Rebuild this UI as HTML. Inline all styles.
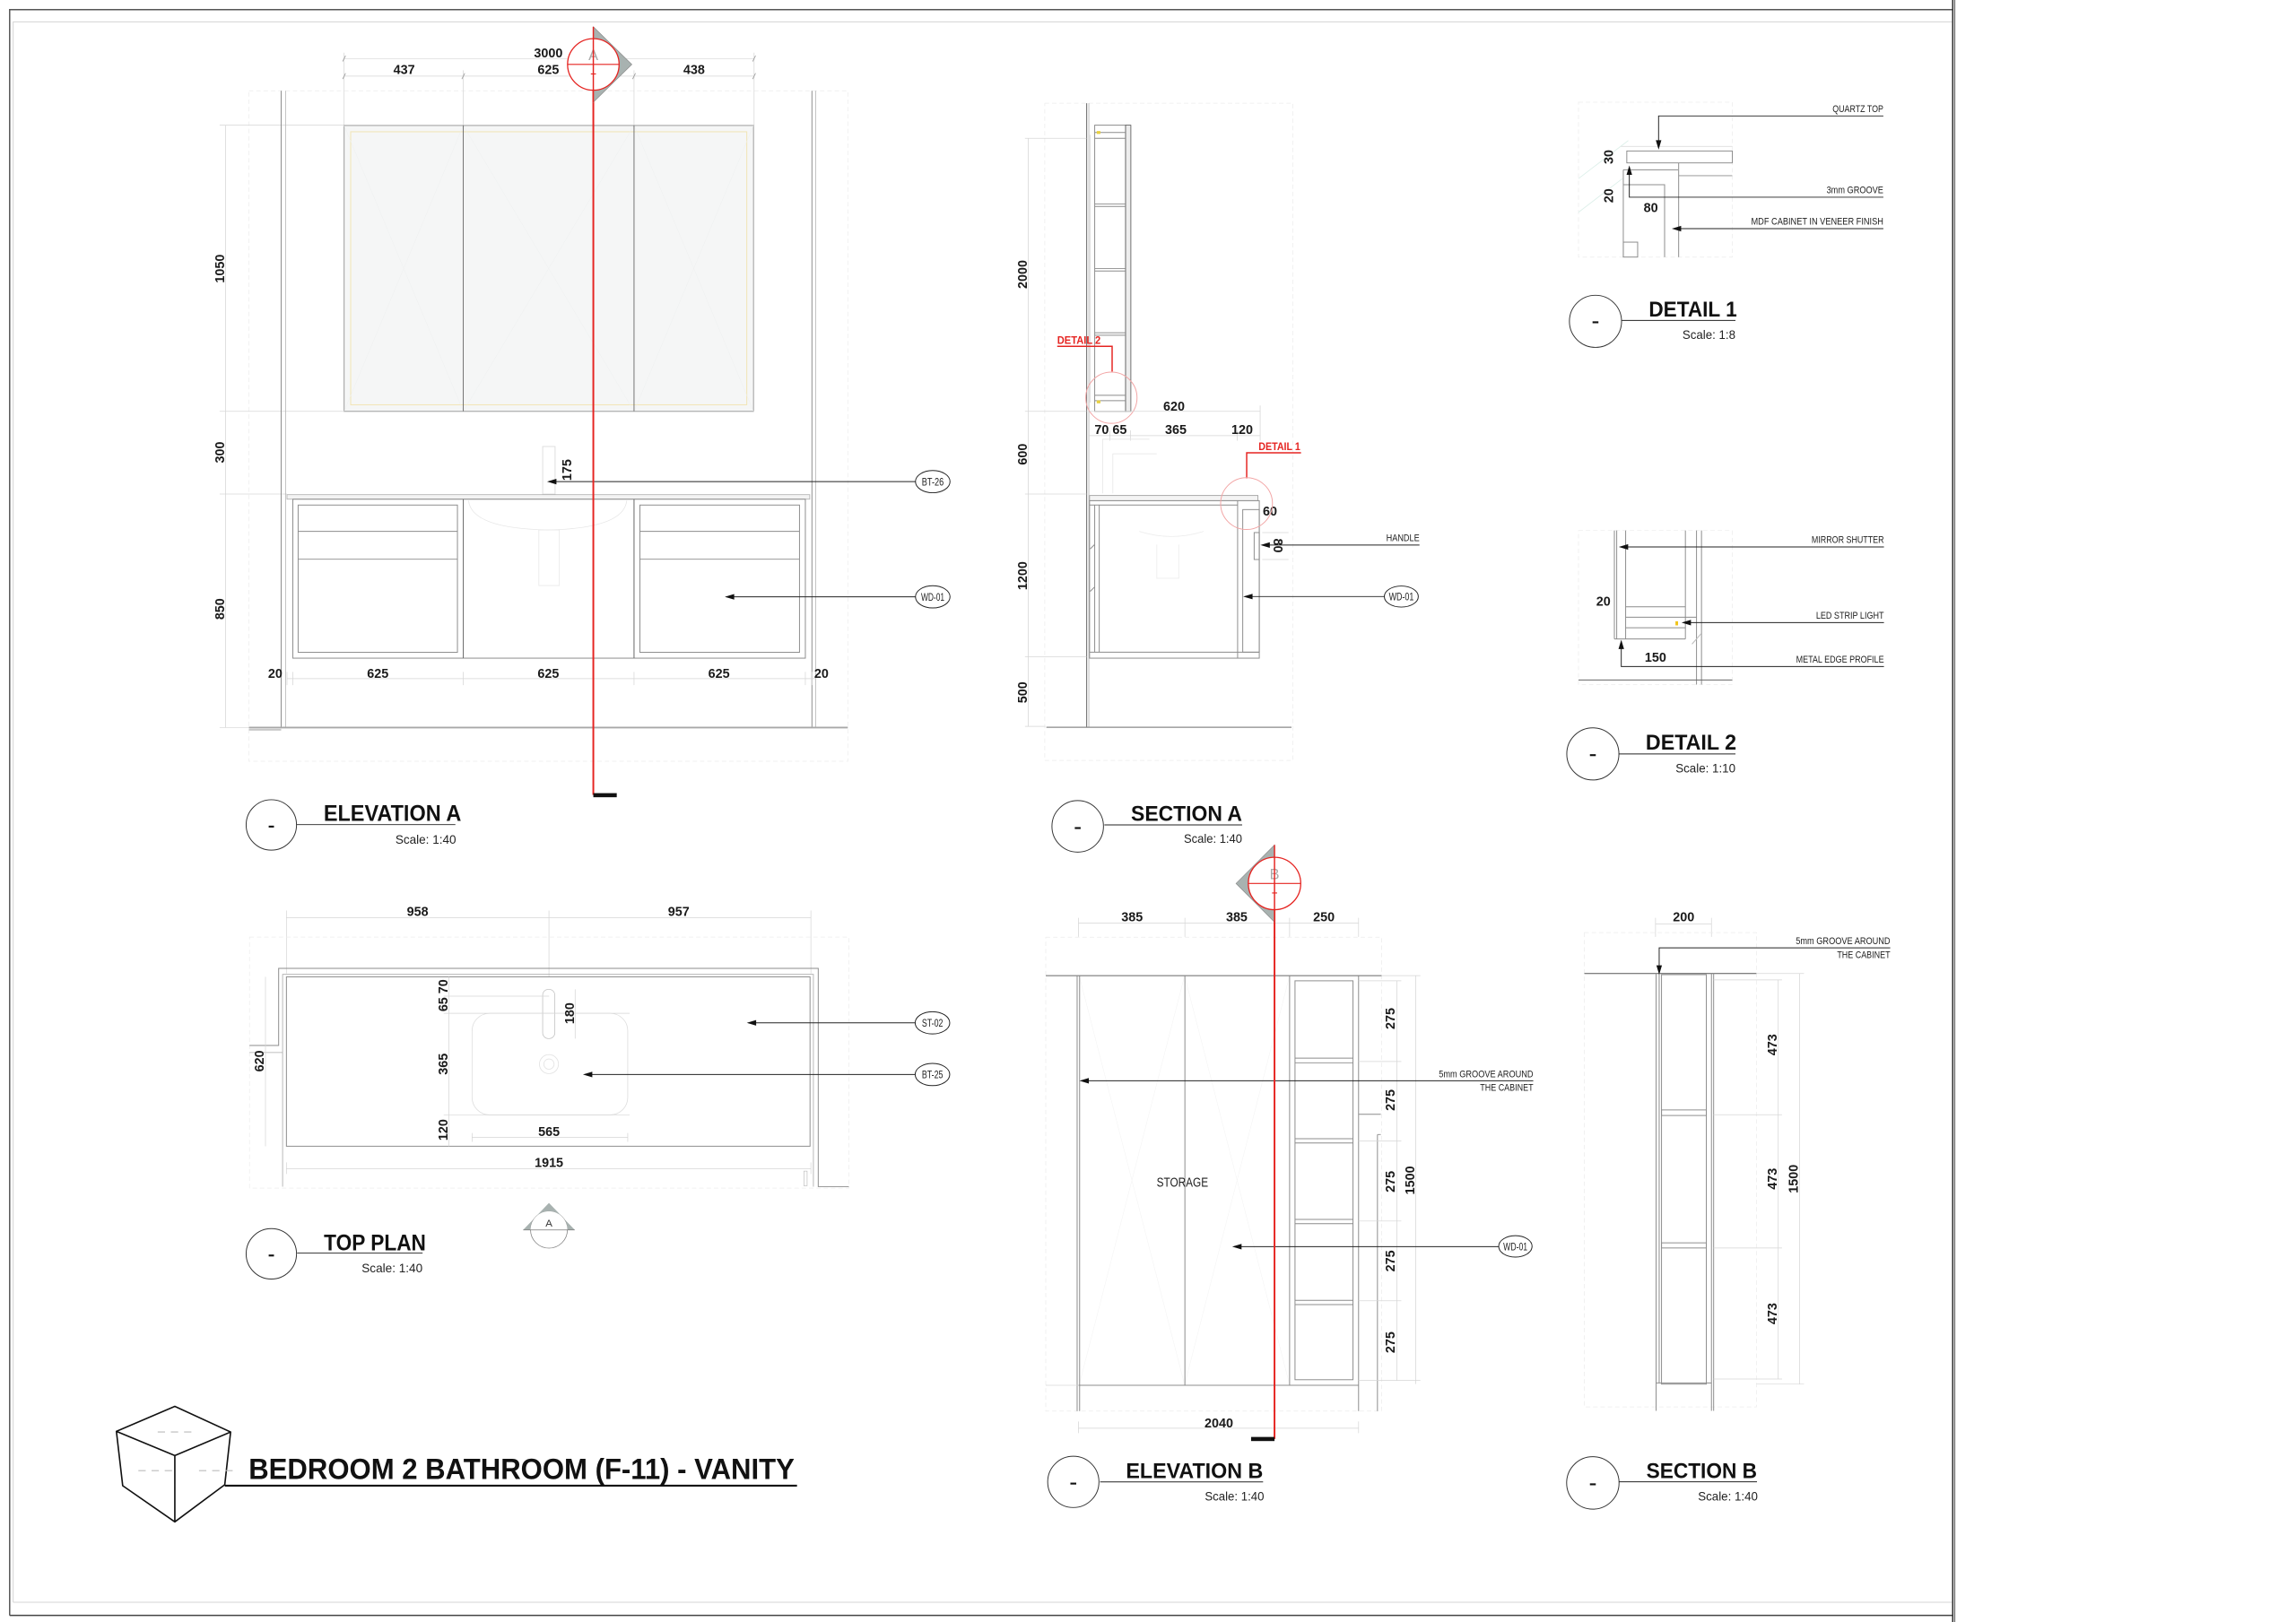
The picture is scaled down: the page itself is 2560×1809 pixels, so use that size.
<!DOCTYPE html>
<html><head><meta charset="utf-8">
<style>
html,body{margin:0;padding:0;background:#fff;}
svg{display:block;}
text{font-family:"Liberation Sans",Arial,sans-serif;}
.d{font-size:8.8px;fill:#1a1a1a;font-weight:bold;}
.lb{font-size:7px;fill:#222;}
.bb{font-size:7.5px;fill:#222;}
.t{font-weight:bold;fill:#111;}
.s{font-size:8.5px;fill:#222;}
.g{stroke:#8c8c8c;stroke-width:0.6;fill:none;}
.gd{stroke:#666;stroke-width:0.6;fill:none;}
.f{stroke:#d6d6d6;stroke-width:0.45;fill:none;}
.ff{stroke:#ececec;stroke-width:0.45;fill:none;stroke-dasharray:3 2;}
.k{stroke:#222;stroke-width:0.6;fill:none;}
.r{stroke:#e52421;stroke-width:1.2;fill:none;}
.rc{stroke:#f2a5a5;stroke-width:0.6;fill:none;}
.ah{fill:#111;stroke:none;}
</style></head><body>
<svg width="2560" height="1809" viewBox="0 0 1568 1108" xmlns="http://www.w3.org/2000/svg">
<rect x="0" y="0" width="1568" height="1108" fill="#fff"/>

<!-- ============ SHEET BORDER ============ -->
<path d="M6.6 1103.5 V6.6 H1334" stroke="#555" stroke-width="0.9" fill="none"/>
<path d="M6.6 1103.5 H1334" stroke="#444" stroke-width="0.9" fill="none"/>
<path d="M9 1094.5 V14.9 H1333 M9 1094.5 H1333" stroke="#d4d4d4" stroke-width="0.6" fill="none"/>
<line x1="1333.6" y1="0" x2="1333.6" y2="1108" stroke="#333" stroke-width="1"/>
<line x1="1335" y1="0" x2="1335" y2="1108" stroke="#555" stroke-width="0.6"/>

<!-- ============ ELEVATION A ============ -->
<rect x="170" y="62" width="409" height="458" class="ff"/>
<path d="M235 40 H515 M235 52 H515 M235 36 V86 M316.4 48 V86 M433 48 V86 M515 36 V86" class="f"/>
<path d="M234 42 L236 38 M514 42 L516 38 M234 54 L236 50 M315.4 54 L317.4 50 M432 54 L434 50 M514 54 L516 50" stroke="#999" stroke-width="0.5"/>
<text class="d" x="374.5" y="39.2" text-anchor="middle">3000</text>
<text class="d" x="276" y="50.6" text-anchor="middle">437</text>
<text class="d" x="374.5" y="50.6" text-anchor="middle">625</text>
<text class="d" x="474" y="50.6" text-anchor="middle">438</text>
<path d="M154 85.5 V497 M150 85.5 H235 M150 281 H235 M150 337.5 H196 M150 497 H170" class="f"/>
<text class="d" transform="translate(150,183.5) rotate(-90)" text-anchor="middle" dy="3.2">1050</text>
<text class="d" transform="translate(150,309) rotate(-90)" text-anchor="middle" dy="3.2">300</text>
<text class="d" transform="translate(150,416) rotate(-90)" text-anchor="middle" dy="3.2">850</text>
<path d="M192 62 V497 M554.5 62 V497" class="g"/>
<path d="M195 62 V497 M557 62 V497" stroke="#b5b5b5" stroke-width="0.5" fill="none"/>
<!-- mirror -->
<rect x="235" y="85.7" width="279.6" height="195.3" fill="#f5f6f6" stroke="#9a9a9a" stroke-width="0.6"/>
<rect x="239.5" y="90" width="270.5" height="186.5" fill="none" stroke="#f1e4b3" stroke-width="0.6"/>
<path d="M235 85.7 L316.4 281 M316.4 85.7 L235 281 M316.4 85.7 L433 281 M433 85.7 L316.4 281 M433 85.7 L514.6 281 M514.6 85.7 L433 281" stroke="#eef0f0" stroke-width="0.3"/>
<path d="M316.4 85.7 V281 M433 85.7 V281" stroke="#666" stroke-width="0.55"/>
<rect x="370.6" y="305" width="8.5" height="32.5" fill="none" stroke="#d8d8d8" stroke-width="0.5"/>
<text class="d" transform="translate(387,321) rotate(-90)" text-anchor="middle" dy="3.2">175</text>
<!-- cabinet -->
<rect x="196" y="337.9" width="357" height="3.1" fill="#f3f3f3" stroke="#b0b0b0" stroke-width="0.5"/>
<rect x="200" y="341" width="350" height="108.6" class="g"/>
<path d="M316.4 341 V449.6 M433 341 V449.6" class="gd"/>
<rect x="203.6" y="345" width="108.8" height="100.6" class="g"/>
<path d="M203.6 363 H312.4 M203.6 382 H312.4" class="g"/>
<rect x="437" y="345" width="109" height="100.6" class="g"/>
<path d="M437 363 H546 M437 382 H546" class="g"/>
<path d="M320 342 Q322 361 374 362 Q426 361 428 342" stroke="#e6e6e6" stroke-width="0.5" fill="none"/>
<rect x="368" y="362" width="14" height="38" fill="none" stroke="#e8e8e8" stroke-width="0.5"/>
<path d="M196 463.6 H557 M196 459 V468 M200 459 V468 M316.4 459 V468 M433 459 V468 M550 459 V468 M554.5 459 V468" class="f"/>
<text class="d" x="188" y="463" text-anchor="middle">20</text>
<text class="d" x="258" y="463" text-anchor="middle">625</text>
<text class="d" x="374.5" y="463" text-anchor="middle">625</text>
<text class="d" x="491" y="463" text-anchor="middle">625</text>
<text class="d" x="561" y="463" text-anchor="middle">20</text>
<line x1="170" y1="497" x2="579" y2="497" stroke="#a8a8a8" stroke-width="1.1"/>
<line x1="170" y1="498.5" x2="192" y2="498.5" stroke="#c8c8c8" stroke-width="1.2"/>
<line x1="375" y1="329" x2="625.2" y2="329" class="k"/>
<polygon points="373.6,329 380,327.1 380,330.9" class="ah"/>
<ellipse cx="637" cy="329" rx="11.8" ry="7.6" fill="#fff" stroke="#222" stroke-width="0.6"/>
<text class="bb" x="637" y="331.6" text-anchor="middle" textLength="15" lengthAdjust="spacingAndGlyphs">BT-26</text>
<line x1="496" y1="407.7" x2="625.2" y2="407.7" class="k"/>
<polygon points="495,407.7 501.4,405.8 501.4,409.6" class="ah"/>
<ellipse cx="637" cy="407.7" rx="11.8" ry="7.6" fill="#fff" stroke="#222" stroke-width="0.6"/>
<text class="bb" x="637" y="410.3" text-anchor="middle" textLength="16" lengthAdjust="spacingAndGlyphs">WD-01</text>
<!-- section line A -->
<line x1="405.2" y1="44" x2="405.2" y2="543" class="r"/>
<rect x="405.2" y="541.8" width="16" height="2.8" fill="#111"/>
<polygon points="405.2,18.3 431.5,44 405.2,69.8" fill="#a8b2b0" stroke="#888" stroke-width="0.4"/>
<circle cx="405.2" cy="44" r="17.6" fill="#fff" stroke="#e52421" stroke-width="0.8"/>
<line x1="387.6" y1="44" x2="422.8" y2="44" stroke="#e52421" stroke-width="0.7"/>
<text x="405.2" y="41" text-anchor="middle" font-size="10" fill="#aaa">A</text>
<line x1="403.5" y1="50.5" x2="407" y2="50.5" stroke="#e52421" stroke-width="0.7"/>
<line x1="405.2" y1="18.3" x2="405.2" y2="69.8" stroke="#e52421" stroke-width="0.9"/>
<circle cx="185.3" cy="563.5" r="17.2" fill="none" stroke="#333" stroke-width="0.6"/>
<rect x="183.5" y="564" width="3.6" height="1.3" fill="#111"/>
<line x1="202.5" y1="563.3" x2="311" y2="563.3" class="k"/>
<text class="t" x="221" y="560.6" font-size="15.5" textLength="94" lengthAdjust="spacingAndGlyphs">ELEVATION A</text>
<text class="s" x="270" y="576.3" textLength="41.5" lengthAdjust="spacingAndGlyphs">Scale: 1:40</text>

<!-- ============ SECTION A ============ -->
<rect x="713.5" y="70.5" width="169.5" height="449" class="ff"/>
<path d="M742.1 70.5 V496.5" stroke="#777" stroke-width="0.7" fill="none"/>
<path d="M743.6 70.5 V496.5" stroke="#aaa" stroke-width="0.45" fill="none"/>
<line x1="714.6" y1="496.8" x2="882" y2="496.8" stroke="#888" stroke-width="0.8"/>
<path d="M744.5 92 V275" class="f"/>
<rect x="747.6" y="85.5" width="21.1" height="195.5" class="g"/>
<rect x="768.7" y="85.5" width="3.6" height="195.5" fill="#ededed" stroke="#555" stroke-width="0.5"/>
<path d="M747.6 90.5 H768.7 M747.6 94.5 H768.7 M747.6 139.3 H768.7 M747.6 141 H768.7 M747.6 183.4 H768.7 M747.6 185.1 H768.7 M747.6 227.3 H768.7 M747.6 229 H768.7 M747.6 270 H768.7 M747.6 273.7 H768.7" class="g"/>
<rect x="749" y="89.5" width="2.5" height="2" fill="#e8d040"/>
<rect x="749" y="273.5" width="2.5" height="2" fill="#e8d040"/>
<path d="M702.3 94.5 V496.2 M700 94.5 H742 M700 281 H742 M700 337.5 H742 M700 448.7 H742 M700 496.2 H714" class="f"/>
<text class="d" transform="translate(698,187.4) rotate(-90)" text-anchor="middle" dy="3.2">2000</text>
<text class="d" transform="translate(698,310.3) rotate(-90)" text-anchor="middle" dy="3.2">600</text>
<text class="d" transform="translate(698,393.3) rotate(-90)" text-anchor="middle" dy="3.2">1200</text>
<text class="d" transform="translate(698,473) rotate(-90)" text-anchor="middle" dy="3.2">500</text>
<text x="722" y="234.9" font-size="7.3" font-weight="bold" fill="#e52421" textLength="29.7" lengthAdjust="spacingAndGlyphs">DETAIL  2</text>
<path d="M722 236.6 H759.5 V253.8" stroke="#e52421" stroke-width="0.9" fill="none"/>
<circle cx="759" cy="271.7" r="17.5" class="rc"/>
<path d="M744 281 H860.6 M744 297.6 H860.6 M758 294 V301 M772 294 V301 M845 294 V301 M860.6 277 V301" class="f"/>
<text class="d" x="801.8" y="280.4" text-anchor="middle">620</text>
<text class="d" x="758.5" y="296.5" text-anchor="middle">70 65</text>
<text class="d" x="803" y="296.5" text-anchor="middle">365</text>
<text class="d" x="848.3" y="296.5" text-anchor="middle">120</text>
<path d="M753 337 V300 H785 M760 337 V310 H790" stroke="#e6e6e6" stroke-width="0.5" fill="none"/>
<rect x="744.1" y="338.5" width="115" height="3.5" fill="#f4f4f4" stroke="#999" stroke-width="0.5"/>
<rect x="744.1" y="342" width="115.9" height="107.6" class="g"/>
<path d="M744.1 345 H845.2 M845.2 342 V449.6 M744.1 445.5 H860 M747.6 345 V445.5 M750.7 345 V445.5" class="g"/>
<rect x="848.7" y="348.1" width="11.3" height="97.4" class="g"/>
<path d="M744.5 375 L747.5 372 M744.5 404 L747.5 401" class="g"/>
<rect x="856.5" y="363.8" width="3.5" height="18.4" class="g"/>
<path d="M778 363 Q800 370 822 363 M790 372 V395 H805 V372" stroke="#ececec" stroke-width="0.5" fill="none"/>
<text class="d" x="867.3" y="352.3" text-anchor="middle">60</text>
<path d="M862 363.8 H880 M862 382.2 H880" class="f"/>
<text class="d" transform="translate(873,372.7) rotate(90)" text-anchor="middle" dy="3.2">80</text>
<text x="859.5" y="307.6" font-size="7.3" font-weight="bold" fill="#e52421" textLength="28.5" lengthAdjust="spacingAndGlyphs">DETAIL  1</text>
<path d="M888.5 309.3 H851.4 V326.8" stroke="#e52421" stroke-width="0.9" fill="none"/>
<circle cx="851.3" cy="344" r="17.7" class="rc"/>
<line x1="862" y1="372.3" x2="969.4" y2="372.3" class="k"/>
<polygon points="860.8,372.3 867.2,370.4 867.2,374.2" class="ah"/>
<text class="lb" x="969.4" y="369.7" text-anchor="end" textLength="22.7" lengthAdjust="spacingAndGlyphs">HANDLE</text>
<line x1="850" y1="407.5" x2="945.5" y2="407.5" class="k"/>
<polygon points="849,407.5 855.4,405.6 855.4,409.4" class="ah"/>
<ellipse cx="957" cy="407.5" rx="11.6" ry="7.2" fill="#fff" stroke="#222" stroke-width="0.6"/>
<text class="bb" x="957" y="410.1" text-anchor="middle" textLength="17" lengthAdjust="spacingAndGlyphs">WD-01</text>
<circle cx="736" cy="564.5" r="17.6" fill="none" stroke="#333" stroke-width="0.6"/>
<rect x="734" y="565" width="4" height="1.3" fill="#111"/>
<line x1="754.2" y1="563.5" x2="848.3" y2="563.5" class="k"/>
<text class="t" x="772.4" y="560.6" font-size="15" textLength="75.9" lengthAdjust="spacingAndGlyphs">SECTION A</text>
<text class="s" x="808.5" y="575.6" textLength="39.8" lengthAdjust="spacingAndGlyphs">Scale: 1:40</text>

<!-- ============ DETAIL 1 ============ -->
<rect x="1078" y="69.8" width="105" height="105.8" class="ff"/>
<path d="M1078 122 L1112 96 M1078 145 L1108 122" stroke="#dcefe9" stroke-width="0.5"/>
<line x1="1107" y1="100" x2="1183" y2="100" class="f"/>
<rect x="1111" y="103.1" width="72" height="8.2" fill="none" stroke="#777" stroke-width="0.5"/>
<path d="M1146.4 111.3 V175.6 M1146.4 120 H1183" class="g"/>
<path d="M1108.6 116 V175.6 M1108.6 116 H1146 M1108.6 126.2 H1136.8 V175.6" class="g"/>
<rect x="1108.6" y="165.4" width="9.8" height="10.2" class="g"/>
<text class="d" transform="translate(1098.4,107.2) rotate(-90)" text-anchor="middle" dy="3.2">30</text>
<text class="d" transform="translate(1098.4,133.7) rotate(-90)" text-anchor="middle" dy="3.2">20</text>
<text class="d" x="1127.4" y="144.8" text-anchor="middle">80</text>
<path d="M1132.7 100.5 V79.2 H1286.2" class="k"/>
<polygon points="1132.7,102.2 1130.8,95.8 1134.6,95.8" class="ah"/>
<text class="lb" x="1286.2" y="76.6" text-anchor="end" textLength="34.7" lengthAdjust="spacingAndGlyphs">QUARTZ TOP</text>
<path d="M1112.7 114.5 V134.7 H1286.2" class="k"/>
<polygon points="1112.7,113 1110.8,119.4 1114.6,119.4" class="ah"/>
<text class="lb" x="1286.2" y="132" text-anchor="end" textLength="38.8" lengthAdjust="spacingAndGlyphs">3mm GROOVE</text>
<line x1="1143" y1="156.2" x2="1286.2" y2="156.2" class="k"/>
<polygon points="1141.7,156.2 1148.1,154.3 1148.1,158.1" class="ah"/>
<text class="lb" x="1286.2" y="153.4" text-anchor="end" textLength="90.3" lengthAdjust="spacingAndGlyphs">MDF CABINET IN VENEER FINISH</text>
<circle cx="1089.6" cy="219.5" r="17.8" fill="none" stroke="#333" stroke-width="0.6"/>
<rect x="1087.6" y="219.5" width="4" height="1.3" fill="#111"/>
<line x1="1107.6" y1="218.9" x2="1185.2" y2="218.9" class="k"/>
<text class="t" x="1126" y="216.2" font-size="14.5" textLength="60.2" lengthAdjust="spacingAndGlyphs">DETAIL 1</text>
<text class="s" x="1149" y="231.6" textLength="36.2" lengthAdjust="spacingAndGlyphs">Scale: 1:8</text>

<!-- ============ DETAIL 2 ============ -->
<rect x="1078" y="362.4" width="105" height="105.2" class="ff"/>
<path d="M1102.5 362.4 V436.5 M1104.1 362.4 V436.5 M1110.2 362.4 V436.5 M1151 362.4 V436.5 M1158.6 362.4 V467.6 M1162 362.4 V467.6" class="g"/>
<path d="M1110.2 414.5 H1151 M1110.2 421.6 H1158.6 M1110.2 428.8 H1151 M1102.5 436.5 H1151" class="g"/>
<line x1="1078" y1="464.5" x2="1183" y2="464.5" stroke="#666" stroke-width="0.6"/>
<rect x="1144.2" y="424.4" width="1.8" height="2.8" fill="#f0c419"/>
<line x1="1155.5" y1="440" x2="1161.7" y2="432.9" stroke="#bbb" stroke-width="0.6"/>
<text class="d" x="1095" y="413.7" text-anchor="middle">20</text>
<text class="d" x="1130.6" y="451.9" text-anchor="middle">150</text>
<line x1="1107" y1="373.6" x2="1286.6" y2="373.6" class="k"/>
<polygon points="1105.5,373.6 1111.9,371.7 1111.9,375.5" class="ah"/>
<text class="lb" x="1286.6" y="371" text-anchor="end" textLength="49.4" lengthAdjust="spacingAndGlyphs">MIRROR SHUTTER</text>
<line x1="1149.5" y1="425.3" x2="1286.6" y2="425.3" class="k"/>
<polygon points="1148.4,425.3 1154.8,423.4 1154.8,427.2" class="ah"/>
<text class="lb" x="1286.6" y="422.6" text-anchor="end" textLength="46.4" lengthAdjust="spacingAndGlyphs">LED STRIP LIGHT</text>
<path d="M1107.2 438.5 V455.3 H1286.6" class="k"/>
<polygon points="1107.2,437 1105.3,443.4 1109.1,443.4" class="ah"/>
<text class="lb" x="1286.6" y="452.6" text-anchor="end" textLength="60" lengthAdjust="spacingAndGlyphs">METAL EDGE PROFILE</text>
<circle cx="1087.8" cy="515" r="17.8" fill="none" stroke="#333" stroke-width="0.6"/>
<rect x="1085.8" y="515.2" width="4" height="1.3" fill="#111"/>
<line x1="1105.5" y1="515" x2="1185.2" y2="515" class="k"/>
<text class="t" x="1123.9" y="511.9" font-size="14.5" textLength="61.9" lengthAdjust="spacingAndGlyphs">DETAIL 2</text>
<text class="s" x="1144.3" y="527.6" textLength="40.9" lengthAdjust="spacingAndGlyphs">Scale: 1:10</text>

<!-- ============ TOP PLAN ============ -->
<path d="M195.6 626.8 H553.8 M195.6 622 V665 M374.9 622 V667 M553.8 622 V665" class="f"/>
<text class="d" x="285.2" y="625.6" text-anchor="middle">958</text>
<text class="d" x="463.5" y="625.6" text-anchor="middle">957</text>
<rect x="170.4" y="640.1" width="409.3" height="171.5" class="ff"/>
<path d="M170.4 714.2 H190.3 V661.5 H558.8 V810.6 H579.7" class="g"/>
<path d="M170.4 719 H193 V810.6 M193 719 V665.6 H555.5 V810.6" stroke="#aaa" stroke-width="0.5" fill="none"/>
<rect x="195.6" y="667.3" width="357.6" height="115.7" class="g"/>
<rect x="322.4" y="692.2" width="106.3" height="69.4" rx="12" fill="none" stroke="#dedede" stroke-width="0.5"/>
<rect x="370.6" y="675.8" width="8.3" height="33.7" rx="4" fill="none" stroke="#c4c4c4" stroke-width="0.5"/>
<circle cx="374.9" cy="726.9" r="6.5" fill="none" stroke="#e2e2e2" stroke-width="0.5"/>
<circle cx="374.9" cy="726.9" r="3.5" fill="none" stroke="#e2e2e2" stroke-width="0.5"/>
<path d="M306.5 667.3 V783 M303 680.5 H375 M303 692.2 H430 M303 761.6 H430 M322.4 774 V780 M428.7 774 V780 M322.4 777 H428.7 M392.8 675.8 V709.5 M181.3 667.3 V783 M195.6 798.3 H553.8 M195.6 794 V802 M553.8 794 V802" class="f"/>
<text class="d" transform="translate(302.5,680) rotate(-90)" text-anchor="middle" dy="3.2">65 70</text>
<text class="d" transform="translate(388.8,692.2) rotate(-90)" text-anchor="middle" dy="3.2">180</text>
<text class="d" transform="translate(302.5,726.9) rotate(-90)" text-anchor="middle" dy="3.2">365</text>
<text class="d" transform="translate(302.5,771.8) rotate(-90)" text-anchor="middle" dy="3.2">120</text>
<text class="d" transform="translate(177,724.8) rotate(-90)" text-anchor="middle" dy="3.2">620</text>
<text class="d" x="374.9" y="776.1" text-anchor="middle">565</text>
<text class="d" x="374.9" y="797.2" text-anchor="middle">1915</text>
<rect x="549" y="800" width="2.2" height="10" fill="none" stroke="#bbb" stroke-width="0.4"/>
<line x1="511.2" y1="698.7" x2="625" y2="698.7" class="k"/>
<polygon points="510,698.7 516.4,696.8 516.4,700.6" class="ah"/>
<ellipse cx="636.8" cy="698.7" rx="11.8" ry="7.6" fill="#fff" stroke="#222" stroke-width="0.6"/>
<text class="bb" x="636.8" y="701.3" text-anchor="middle" textLength="14.5" lengthAdjust="spacingAndGlyphs">ST-02</text>
<line x1="399.3" y1="734" x2="625" y2="734" class="k"/>
<polygon points="398.1,734 404.5,732.1 404.5,735.9" class="ah"/>
<ellipse cx="636.8" cy="734" rx="11.8" ry="7.6" fill="#fff" stroke="#222" stroke-width="0.6"/>
<text class="bb" x="636.8" y="736.6" text-anchor="middle" textLength="14.5" lengthAdjust="spacingAndGlyphs">BT-25</text>
<!-- section marker A (plan) -->
<polygon points="374.9,821.8 357.3,840.2 392.5,840.2" fill="#a8b2b0"/>
<circle cx="374.9" cy="840" r="12.6" fill="#fff" stroke="#888" stroke-width="0.5"/>
<path d="M362.3 840 A12.6 12.6 0 0 1 387.5 840 Z" fill="#fff"/>
<path d="M374.9 821.8 L366 831 A12.6 12.6 0 0 1 383.8 831 Z" fill="#a8b2b0"/>
<path d="M357.3 840.2 L363.5 833.8 A12.6 12.6 0 0 0 362.3 840.2 Z M392.5 840.2 L386.3 833.8 A12.6 12.6 0 0 1 387.5 840.2 Z" fill="#a8b2b0"/>
<line x1="357.3" y1="840.2" x2="392.5" y2="840.2" stroke="#777" stroke-width="0.5"/>
<text x="374.9" y="838" text-anchor="middle" font-size="7" fill="#333">A</text>
<circle cx="185.3" cy="856.5" r="17.2" fill="none" stroke="#333" stroke-width="0.6"/>
<rect x="183.5" y="857" width="3.6" height="1.3" fill="#111"/>
<line x1="202.9" y1="856" x2="288.6" y2="856" class="k"/>
<text class="t" x="221.2" y="854" font-size="15.5" textLength="69.7" lengthAdjust="spacingAndGlyphs">TOP PLAN</text>
<text class="s" x="247" y="869.2" textLength="41.6" lengthAdjust="spacingAndGlyphs">Scale: 1:40</text>

<!-- ============ ELEVATION B ============ -->
<path d="M736.5 630.5 H927.8 M736.5 627 V640 M809.2 627 V640 M880.7 627 V640 M927.8 627 V640" class="f"/>
<text class="d" x="773.1" y="629.4" text-anchor="middle">385</text>
<text class="d" x="844.6" y="629.4" text-anchor="middle">385</text>
<text class="d" x="904.1" y="629.4" text-anchor="middle">250</text>
<rect x="714.2" y="640.2" width="229.3" height="323.7" class="ff"/>
<path d="M737 666.5 L809 946 M809 666.5 L737 946 M809 666.5 L880.7 946 M880.7 666.5 L809 946" stroke="#f4f4f4" stroke-width="0.35"/>
<line x1="714.2" y1="666.5" x2="943.5" y2="666.5" stroke="#666" stroke-width="0.6"/>
<path d="M735.6 666.5 V963.9 M737.3 666.5 V963.9 M927.8 666.5 V963.9" class="g"/>
<path d="M809.2 666.5 V946.3 M880.7 666.5 V946.3 M736.5 946.3 H927.8" class="g"/>
<line x1="714.2" y1="946.3" x2="735.6" y2="946.3" class="f"/>
<rect x="884.4" y="670" width="39.6" height="272.5" class="g"/>
<path d="M884.4 722.8 H924 M884.4 726 H924 M884.4 777.9 H924 M884.4 780.8 H924 M884.4 833 H924 M884.4 835.9 H924 M884.4 888.3 H924 M884.4 891.2 H924" class="g"/>
<path d="M927.8 761.2 H943 M940.7 775 V963.9 M940.7 775 H943" class="g"/>
<path d="M954 670 V943 M927.8 670 H957 M927.8 725.1 H957 M927.8 779.3 H957 M927.8 834.1 H957 M927.8 888.6 H957 M927.8 943 H970 M966.9 666.5 V945.5 M943.5 666.5 H970" class="f"/>
<text class="d" transform="translate(949.3,695.8) rotate(-90)" text-anchor="middle" dy="3.2">275</text>
<text class="d" transform="translate(949.3,751.5) rotate(-90)" text-anchor="middle" dy="3.2">275</text>
<text class="d" transform="translate(949.3,807.2) rotate(-90)" text-anchor="middle" dy="3.2">275</text>
<text class="d" transform="translate(949.3,861.4) rotate(-90)" text-anchor="middle" dy="3.2">275</text>
<text class="d" transform="translate(949.3,917) rotate(-90)" text-anchor="middle" dy="3.2">275</text>
<text class="d" transform="translate(962.7,806.3) rotate(-90)" text-anchor="middle" dy="3.2">1500</text>
<line x1="738.4" y1="738.3" x2="1047.1" y2="738.3" class="k"/>
<polygon points="737.2,738.3 743.6,736.4 743.6,740.2" class="ah"/>
<text class="lb" x="1047.1" y="735.8" text-anchor="end" textLength="64.5" lengthAdjust="spacingAndGlyphs">5mm GROOVE AROUND</text>
<text class="lb" x="1047.1" y="745" text-anchor="end" textLength="36.3" lengthAdjust="spacingAndGlyphs">THE CABINET</text>
<line x1="842.7" y1="851.6" x2="1023.6" y2="851.6" class="k"/>
<polygon points="841.5,851.6 847.9,849.7 847.9,853.5" class="ah"/>
<ellipse cx="1034.9" cy="851.4" rx="11.4" ry="7.3" fill="#fff" stroke="#222" stroke-width="0.6"/>
<text class="bb" x="1034.9" y="854" text-anchor="middle" textLength="16.5" lengthAdjust="spacingAndGlyphs">WD-01</text>
<text x="807.5" y="810.5" text-anchor="middle" font-size="9.3" fill="#222" textLength="35.2" lengthAdjust="spacingAndGlyphs">STORAGE</text>
<path d="M736.5 975.6 H927.8 M736.5 971 V979 M927.8 971 V979" class="f"/>
<text class="d" x="832.4" y="975" text-anchor="middle">2040</text>
<line x1="870.4" y1="603.5" x2="870.4" y2="983" class="r"/>
<rect x="854.4" y="981.6" width="16" height="2.8" fill="#111"/>
<polygon points="870.4,577.2 844.1,603.5 870.4,629.9" fill="#a8b2b0" stroke="#888" stroke-width="0.4"/>
<circle cx="870.4" cy="603.5" r="17.9" fill="#fff" stroke="#e52421" stroke-width="0.8"/>
<line x1="852.5" y1="603.5" x2="888.3" y2="603.5" stroke="#e52421" stroke-width="0.7"/>
<text x="870.4" y="600.5" text-anchor="middle" font-size="10" fill="#aaa">B</text>
<line x1="868.7" y1="610" x2="872.2" y2="610" stroke="#e52421" stroke-width="0.7"/>
<line x1="870.4" y1="577.2" x2="870.4" y2="629.9" stroke="#e52421" stroke-width="0.9"/>
<circle cx="733" cy="1012.3" r="17.5" fill="none" stroke="#333" stroke-width="0.6"/>
<rect x="731" y="1012.8" width="4" height="1.3" fill="#111"/>
<line x1="751.3" y1="1012.3" x2="862.6" y2="1012.3" class="k"/>
<text class="t" x="768.9" y="1009.6" font-size="15" textLength="93.7" lengthAdjust="spacingAndGlyphs">ELEVATION B</text>
<text class="s" x="822.8" y="1025" textLength="40.5" lengthAdjust="spacingAndGlyphs">Scale: 1:40</text>

<!-- ============ SECTION B ============ -->
<path d="M1130.6 631.1 H1168.8 M1130.6 627 V640 M1168.8 627 V640" class="f"/>
<text class="d" x="1149.8" y="629.4" text-anchor="middle">200</text>
<rect x="1082" y="637.1" width="117.5" height="324" class="ff"/>
<line x1="1082" y1="665" x2="1199.5" y2="665" stroke="#555" stroke-width="0.6"/>
<path d="M1131 665 V963.8 M1133.1 665 V944.7 M1168.8 665 V963.8 M1170.3 665 V963.8" class="g"/>
<rect x="1134.7" y="665.8" width="30.6" height="279.7" class="g"/>
<rect x="1134.7" y="758.2" width="30.6" height="3.8" class="g"/>
<rect x="1134.7" y="849" width="30.6" height="3.5" class="g"/>
<path d="M1131 944.7 H1168.8" class="g"/>
<path d="M1214.4 669.4 V942 M1170.3 669.4 H1217 M1170.3 761.5 H1217 M1170.3 852.5 H1217 M1170.3 942 H1217 M1229 665 V945.5 M1199.5 665 H1232 M1199.5 945.5 H1232" class="f"/>
<text class="d" transform="translate(1210.3,713.7) rotate(-90)" text-anchor="middle" dy="3.2">473</text>
<text class="d" transform="translate(1210.3,805.3) rotate(-90)" text-anchor="middle" dy="3.2">473</text>
<text class="d" transform="translate(1210.3,897.4) rotate(-90)" text-anchor="middle" dy="3.2">473</text>
<text class="d" transform="translate(1224.6,805.3) rotate(-90)" text-anchor="middle" dy="3.2">1500</text>
<path d="M1133.1 664 V647.5 H1290.9" class="k"/>
<polygon points="1133.1,665.8 1131.2,659.4 1135,659.4" class="ah"/>
<text class="lb" x="1290.9" y="645" text-anchor="end" textLength="64.5" lengthAdjust="spacingAndGlyphs">5mm GROOVE AROUND</text>
<text class="lb" x="1290.9" y="654.6" text-anchor="end" textLength="36.3" lengthAdjust="spacingAndGlyphs">THE CABINET</text>
<circle cx="1087.8" cy="1013" r="17.9" fill="none" stroke="#333" stroke-width="0.6"/>
<rect x="1085.8" y="1013.3" width="4" height="1.3" fill="#111"/>
<line x1="1105.5" y1="1012.2" x2="1199.9" y2="1012.2" class="k"/>
<text class="t" x="1124.3" y="1009.6" font-size="15" textLength="75.6" lengthAdjust="spacingAndGlyphs">SECTION B</text>
<text class="s" x="1159.6" y="1024.9" textLength="40.9" lengthAdjust="spacingAndGlyphs">Scale: 1:40</text>

<!-- ============ MAIN TITLE ============ -->
<path d="M119.4 960.7 L79.5 977.8 L119.4 994.3 L157.5 978.2 Z M79.5 977.8 L83.8 1014.9 L119.4 1039.6 L153.5 1014.2 L157.5 978.2 M119.4 994.3 V1039.6" stroke="#111" stroke-width="1" fill="none" stroke-linejoin="round"/>
<path d="M107.7 978.2 H132.6 M94.5 1004.6 H117.7 M135.9 1004.6 H159.2" stroke="#bbb" stroke-width="0.7" stroke-dasharray="5 4" fill="none"/>
<text class="t" x="169.8" y="1010.2" font-size="20" textLength="372.8" lengthAdjust="spacingAndGlyphs">BEDROOM 2 BATHROOM (F-11)  - VANITY</text>
<line x1="153.5" y1="1014.9" x2="544.3" y2="1014.9" stroke="#111" stroke-width="1.3"/>
</svg>
</body></html>
